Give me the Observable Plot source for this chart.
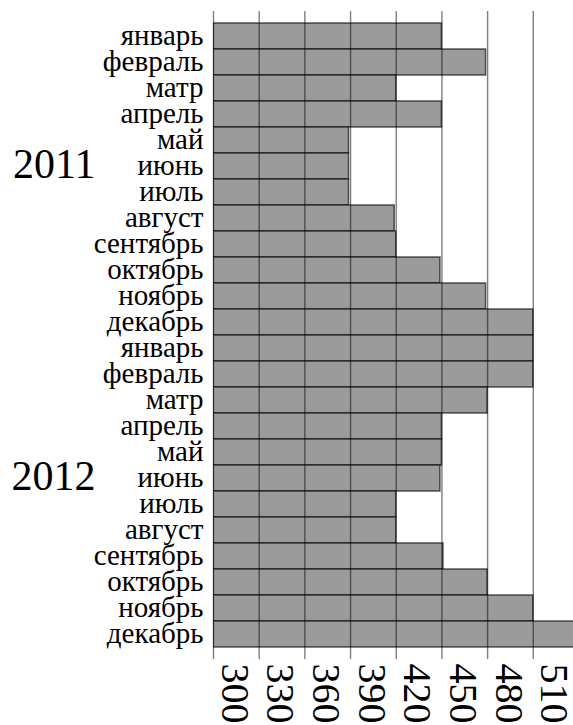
<!DOCTYPE html>
<html>
<head>
<meta charset="utf-8">
<script src="https://cdn.jsdelivr.net/npm/d3@7"></script>
<script src="https://cdn.jsdelivr.net/npm/@observablehq/plot@0.6"></script>
<style>
  html, body { margin: 0; padding: 0; background: #fff; }
  svg { display: block; }
</style>
</head>
<body>
<div id="chart"></div>
<script>
const months = ["январь","февраль","матр","апрель","май","июнь","июль","август","сентябрь","октябрь","ноябрь","декабрь"];
const years = [2011, 2012];
const values2011 = [450, 479, 420, 450, 389, 389, 389, 419, 420, 449, 479, 510];
const values2012 = [510, 510, 480, 450, 450, 449, 420, 420, 451, 480, 510, 540];
const xTicks = [300, 330, 360, 390, 420, 450, 480, 510];

const rows = [];
years.forEach((yr, i) => {
  const vals = i === 0 ? values2011 : values2012;
  months.forEach((m, j) => rows.push({key: `${yr}-${j}`, year: yr, month: m, value: vals[j]}));
});
const keys = rows.map(d => d.key);
const monthOf = new Map(rows.map(d => [d.key, d.month]));
const yearLabels = years.map(yr => ({key: `${yr}-5`, label: String(yr)}));

const serif = "'Liberation Serif', 'Times New Roman', serif";

const chart = Plot.plot({
  width: 573,
  height: 725,
  marginLeft: 213,
  marginRight: 0,
  marginTop: 13,
  marginBottom: 68,
  style: {fontFamily: serif, background: "#fff", overflow: "visible"},
  x: {domain: [300, 536.4], axis: null},
  y: {domain: keys, padding: 0, axis: null},
  marks: [
    Plot.barX(rows, {x1: 300, x2: "value", y: "key", fill: "#9b9b9b", stroke: "#000", strokeOpacity: 0.6, strokeWidth: 1.6, clip: true}),
    Plot.ruleX(xTicks, {stroke: "#000", strokeOpacity: 0.5, strokeWidth: 1.4, insetTop: -2, insetBottom: -2}),
    Plot.text(keys, {y: d => d, text: d => monthOf.get(d), frameAnchor: "left", textAnchor: "end", dx: -10, dy: -1, fontSize: 29, fontFamily: serif, fill: "#000", ariaLabel: "month-label"}),
    Plot.text(yearLabels, {y: "key", text: "label", frameAnchor: "left", textAnchor: "end", dx: -118, dy: -2, fontSize: 42, fontFamily: serif, fill: "#000"}),
    Plot.text(xTicks, {x: d => d, text: d => String(d), frameAnchor: "bottom", rotate: 90, textAnchor: "start", lineAnchor: "middle", dx: 21, dy: 6, fontSize: 40, fontFamily: serif, fill: "#000"})
  ]
});

// Slight horizontal stretch of month labels around their right-aligned anchor
chart.querySelectorAll('g[aria-label="month-label"] text').forEach(t => {
  const tr = t.getAttribute("transform") || "";
  const xAttr = parseFloat(t.getAttribute("x") || "0");
  if (tr) {
    t.setAttribute("transform", tr + " scale(1.12,1)");
  } else {
    t.setAttribute("transform", `translate(${xAttr},0) scale(1.12,1) translate(${-xAttr},0)`);
  }
});

document.getElementById("chart").appendChild(chart);
</script>
</body>
</html>
